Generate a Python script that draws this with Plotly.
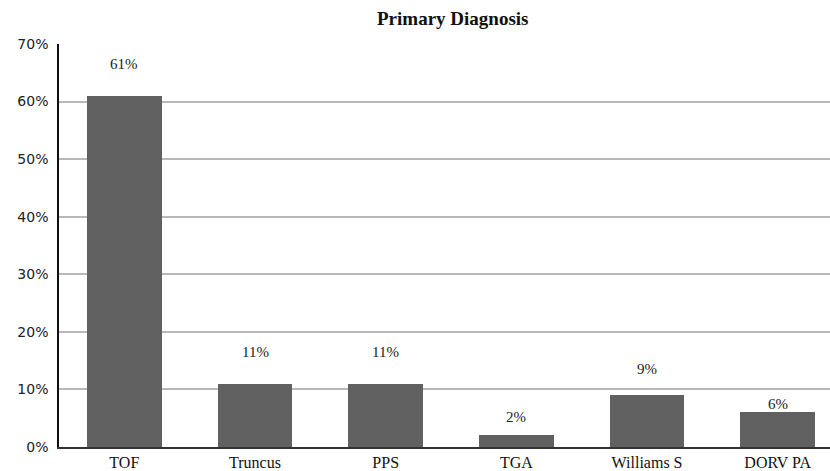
import plotly.graph_objects as go

# Primary diagnosis distribution (% of patients)
categories = ["TOF", "Truncus", "PPS", "TGA", "Williams S", "DORV PA"]
percentages = [61, 11, 11, 2, 9, 6]
y_ticks = [0, 10, 20, 30, 40, 50, 60, 70]
y_tick_labels = [f"{v}%" for v in y_ticks]

# vertical gap (px) between each bar top and its value label
label_gaps = [32, 32, 32, 18, 26, 8]

fig = go.Figure()
fig.add_trace(go.Bar(
    x=categories,
    y=percentages,
    marker=dict(color="#606060", line=dict(width=0)),
    width=0.57,
    hoverinfo="skip",
))

for cat, val, gap in zip(categories, percentages, label_gaps):
    fig.add_annotation(
        x=cat, y=val, text=f"{val}%", showarrow=False,
        yanchor="bottom", yshift=gap - 10,
        font=dict(family="Liberation Serif", size=15, color="#222222"),
    )

fig.add_annotation(
    xref="paper", yref="paper", x=0.51, y=1, yshift=38,
    text="<b>Primary Diagnosis</b>", showarrow=False,
    font=dict(family="Liberation Serif", size=19, color="#111111"),
)

fig.update_layout(
    width=830, height=471,
    margin=dict(l=59, r=0, t=44, b=24),
    paper_bgcolor="white", plot_bgcolor="white",
    showlegend=False,
    bargap=0,
)
fig.update_xaxes(
    range=[-0.5, 5.4],
    automargin=False,
    showgrid=False,
    showline=True, linecolor="#333333", linewidth=1.5,
    ticks="", ticklen=0,
    tickfont=dict(family="Liberation Serif", size=16, color="#111111"),
)
fig.update_yaxes(
    range=[0, 70],
    automargin=False,
    tickvals=y_ticks, ticktext=y_tick_labels,
    showgrid=True, gridcolor="#b8b8b8", gridwidth=1.5,
    showline=True, linecolor="#111111", linewidth=1.5,
    zeroline=False,
    ticks="outside", ticklen=6, tickcolor="rgba(0,0,0,0)",
    tickfont=dict(family="DejaVu Sans", size=14, color="#222222"),
)

fig.write_html("out.html")
